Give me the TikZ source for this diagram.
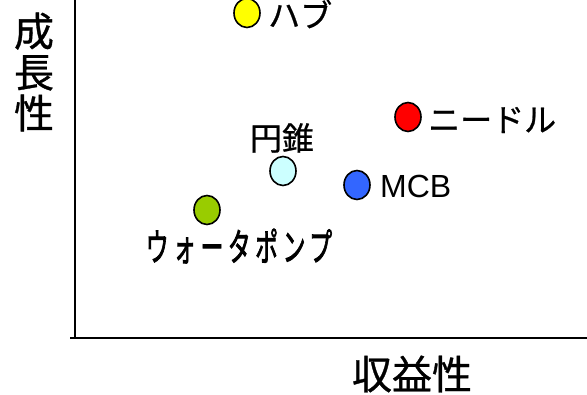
\documentclass[tikz,border=0pt]{standalone}
\usepackage{fontspec}
\setmainfont{Liberation Sans}
\newfontfamily\jp[FakeBold=0.8]{Noto Sans CJK JP}
\newfontfamily\jpsp[FakeBold=2.6,LetterSpace=20]{Noto Sans CJK JP}
\usetikzlibrary{shapes.geometric}
\definecolor{cyellow}{RGB}{255,255,0}
\definecolor{cred}{RGB}{255,0,0}
\definecolor{ccyan}{RGB}{204,255,255}
\definecolor{cblue}{RGB}{51,102,255}
\definecolor{cgreen}{RGB}{153,204,0}
\tikzset{
  dot/.style={ellipse, draw=black, line width=1.6pt, inner sep=0pt, minimum width=26pt, minimum height=29pt},
  lbl/.style={inner sep=0pt, font=\jp\fontsize{32}{32}\selectfont},
  axislbl/.style={inner sep=0pt, font=\jp\fontsize{40}{43}\selectfont, align=center},
  axisline/.style={line width=2.6pt}
}
\begin{document}
\begin{tikzpicture}[x=1pt,y=-1pt]
\useasboundingbox (0,0) rectangle (587,395);
% axes
\coordinate (top) at (75,0);
\coordinate (corner) at (75,338);
\coordinate (left) at (70,338);
\coordinate (right) at (587,338);
\draw[axisline] (top) -- (corner);
\draw[axisline] (left) -- (right);
\node[axislbl] (ylab) at (34,72) {成\\[-2pt]長\\[-2pt]性};
\node[axislbl, anchor=center] (xlab) at (412,374) {収益性};
% points
\node[dot, fill=cyellow] (hub) at (247,13) {};
\node[lbl, anchor=west] (hubl) at (268,14) {ハブ};
\node[dot, fill=cred] (needle) at (408,117) {};
\node[lbl, anchor=west] (needlel) at (428,120) {ニードル};
\node[dot, fill=ccyan] (cone) at (283,171) {};
\node[lbl] (conel) at (282,138) {円錐};
\node[dot, fill=cblue] (mcb) at (357,185) {};
\node[inner sep=0pt, anchor=west, font=\fontsize{32}{32}\selectfont] (mcbl) at (380,186) {MCB};
\node[dot, fill=cgreen] (pump) at (207,210) {};
\node[inner sep=0pt, font=\jpsp\fontsize{38}{38}\selectfont, xscale=0.6] (pumpl) at (239,246) {ウォータポンプ};
\end{tikzpicture}
\end{document}
